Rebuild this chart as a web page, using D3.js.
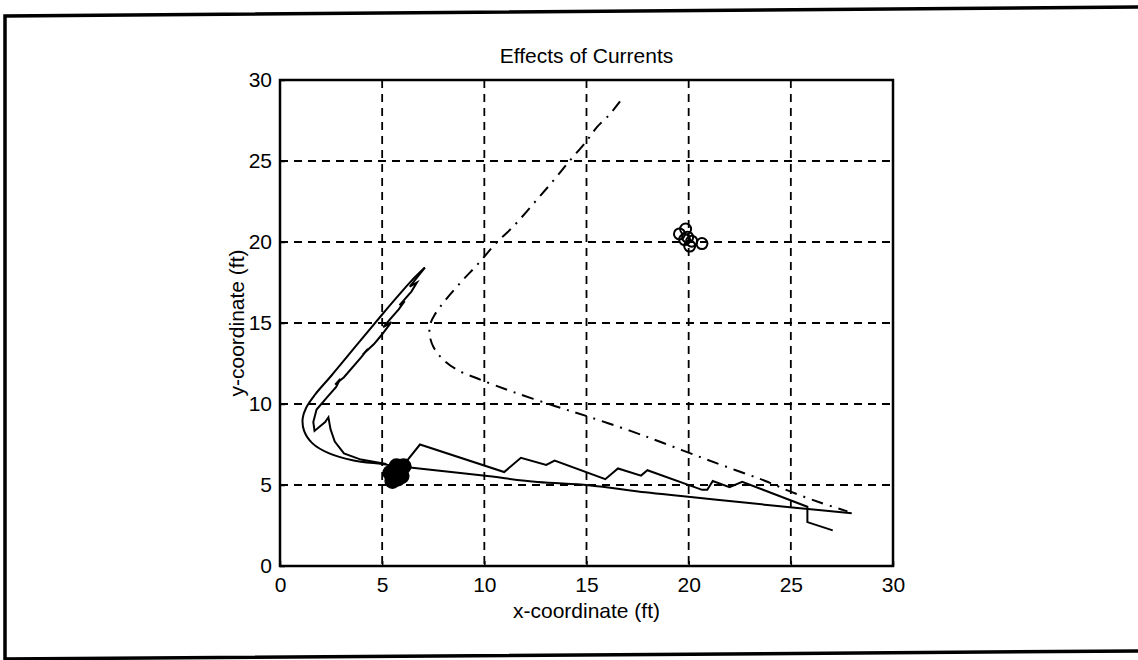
<!DOCTYPE html>
<html><head><meta charset="utf-8">
<script src="https://cdn.jsdelivr.net/npm/d3@7"></script>
<style>
html,body{margin:0;padding:0;background:#fff;}
svg{display:block;}
text{font-family:"Liberation Sans",Arial,Helvetica,sans-serif;fill:#000;}
</style></head>
<body>
<svg id="chart" width="1138" height="660"></svg>
<script>
// ---- data ----
const titleText = "Effects of Currents";
const xLabel = "x-coordinate (ft)";
const yLabel = "y-coordinate (ft)";
const xTicks = [0, 5, 10, 15, 20, 25, 30];
const yTicks = [0, 5, 10, 15, 20, 25, 30];

// dash-dot trajectory
const pathDashDot = [
  [16.64,28.68],[16.12,27.86],[15.51,27.09],[14.99,26.21],[14.16,24.99],[13.44,23.88],
  [12.62,22.68],[11.38,20.91],[10.56,19.92],[9.73,18.70],[8.91,17.60],[8.08,16.39],
  [7.57,15.51],[7.36,14.95],[7.32,14.29],[7.51,13.52],[7.98,12.75],[8.70,12.09],
  [9.73,11.54],[11.38,10.76],[13.44,9.88],[15.09,9.22],[17.15,8.34],[18.60,7.67],
  [20.66,6.68],[22.31,5.91],[23.75,5.25],[24.99,4.59],[26.43,3.92],[27.77,3.37]
];
// outer solid trajectory (V then long straight run)
const pathOuter = [
  [7.09,18.42],[6.43,17.60],[5.81,16.72],[4.99,15.51],[3.75,13.63],[2.52,11.76],
  [1.69,10.54],[1.28,9.77],[1.11,9.11],[1.18,8.34],[1.59,7.57],[2.41,6.95],
  [3.55,6.53],[4.99,6.29],[6.02,6.13],[9.94,5.58],[12.62,5.18],[15.09,4.99],
  [17.88,4.55],[19.63,4.32],[22.72,3.92],[25.20,3.59],[27.98,3.26]
];
// inner solid trajectory with hooks
const pathInner = [
  [5.20,6.29],[3.96,6.57],[3.13,6.95],[2.68,7.68],[2.47,8.45],[2.37,9.18],
  [2.21,8.89],[1.69,8.34],[1.63,8.89],[1.79,9.66],[2.31,10.43],[2.75,11.05],
  [2.95,11.55],[2.70,11.20],[3.13,11.65],[3.96,12.86],[4.30,13.40],[4.05,13.05],
  [4.60,13.70],[4.99,14.29],[5.45,15.05],[5.05,14.75],[5.81,15.84],[6.10,16.35],
  [5.85,16.10],[6.43,16.94],[6.70,17.50],[6.35,17.25],[7.09,18.42]
];
// zig-zag solid trajectory
const pathZigzag = [
  [6.12,6.35],[6.85,7.50],[10.97,5.80],[11.79,6.68],[13.03,6.24],[13.44,6.51],
  [15.92,5.36],[16.54,6.02],[17.67,5.58],[17.98,5.91],[20.66,4.70],[20.91,4.70],
  [21.18,5.25],[22.00,4.87],[22.62,5.20],[25.81,3.66],[25.81,2.71],[27.05,2.20]
];
// filled markers (start cluster)
const startMarkers = [[5.50,5.25],[5.60,5.60],[5.75,5.40],[5.85,5.90],[6.05,6.15],[5.40,5.75],[5.70,6.15],[5.95,5.55]];
// open markers (target cluster)
const targetMarkers = [[19.55,20.50],[19.85,20.80],[19.95,20.30],[20.05,19.75],[20.15,20.05],[20.65,19.90],[19.80,20.15]];

// ---- layout ----
const svg = d3.select("#chart");
const L = 280, R = 893, T = 80, B = 566;
const x = d3.scaleLinear().domain([0,30]).range([L,R]);
const y = d3.scaleLinear().domain([0,30]).range([B,T]);

// outer scanned frame
svg.append("path")
  .attr("d","M5,661 L5,16 L1138,7 M4,659 L1138,651")
  .attr("fill","none").attr("stroke","#000").attr("stroke-width",3.5);

// grid
const g = svg.append("g");
g.selectAll(".vg").data(xTicks.filter(d=>d>0&&d<30)).enter().append("line")
  .attr("x1",d=>x(d)).attr("x2",d=>x(d)).attr("y1",T).attr("y2",B)
  .attr("stroke","#000").attr("stroke-width",1.8).attr("stroke-dasharray","8,6");
g.selectAll(".hg").data(yTicks.filter(d=>d>0&&d<30)).enter().append("line")
  .attr("y1",d=>y(d)).attr("y2",d=>y(d)).attr("x1",L).attr("x2",R)
  .attr("stroke","#000").attr("stroke-width",1.8).attr("stroke-dasharray","8,6");

// axes
const xa = svg.append("g").attr("transform",`translate(0,${B})`)
  .call(d3.axisBottom(x).tickValues(xTicks).tickSize(-5).tickPadding(11).tickFormat(d3.format("d")));
const ya = svg.append("g").attr("transform",`translate(${L},0)`)
  .call(d3.axisLeft(y).tickValues(yTicks).tickSize(-5).tickPadding(8).tickFormat(d3.format("d")));
[xa,ya].forEach(a=>{
  a.selectAll("path.domain").remove();
  a.selectAll("line").attr("stroke","#000").attr("stroke-width",1.5);
  a.selectAll("text").attr("font-size",21).attr("font-family","Liberation Sans, Arial, sans-serif");
});
svg.append("rect").attr("x",L).attr("y",T).attr("width",R-L).attr("height",B-T)
  .attr("fill","none").attr("stroke","#000").attr("stroke-width",2.5);

// lines
const line = d3.line().x(d=>x(d[0])).y(d=>y(d[1]));
const lineC = d3.line().x(d=>x(d[0])).y(d=>y(d[1])).curve(d3.curveCatmullRom.alpha(0.5));
svg.append("path").datum(pathDashDot).attr("d",lineC)
  .attr("fill","none").attr("stroke","#000").attr("stroke-width",2).attr("stroke-dasharray","12,7,2,7");
svg.append("path").datum(pathOuter).attr("d",lineC)
  .attr("fill","none").attr("stroke","#000").attr("stroke-width",2);
svg.append("path").datum(pathInner).attr("d",line)
  .attr("fill","none").attr("stroke","#000").attr("stroke-width",2);
svg.append("path").datum(pathZigzag).attr("d",line)
  .attr("fill","none").attr("stroke","#000").attr("stroke-width",2);

// markers
svg.selectAll(".sm").data(startMarkers).enter().append("circle")
  .attr("cx",d=>x(d[0])).attr("cy",d=>y(d[1])).attr("r",8).attr("fill","#000");
svg.selectAll(".tm").data(targetMarkers).enter().append("circle")
  .attr("cx",d=>x(d[0])).attr("cy",d=>y(d[1])).attr("r",5.5)
  .attr("fill","none").attr("stroke","#000").attr("stroke-width",2);

// titles
svg.append("text").attr("x",(L+R)/2).attr("y",63).attr("text-anchor","middle")
  .attr("font-size",21).text(titleText);
svg.append("text").attr("x",(L+R)/2).attr("y",618).attr("text-anchor","middle")
  .attr("font-size",21).text(xLabel);
svg.append("text").attr("transform",`translate(244,${(T+B)/2}) rotate(-90)`)
  .attr("text-anchor","middle").attr("font-size",21).text(yLabel);
</script>
</body></html>
